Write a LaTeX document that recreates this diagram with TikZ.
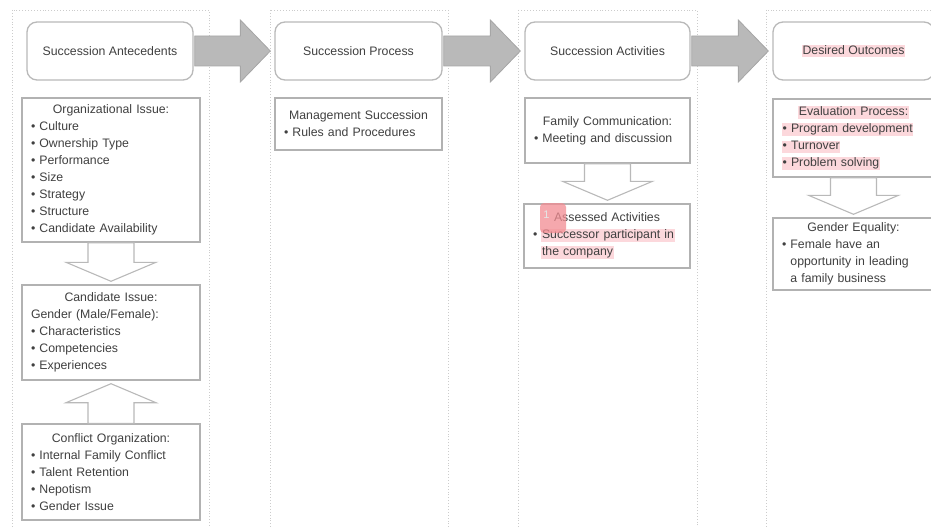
\documentclass[tikz,border=0pt]{standalone}
\usepackage{fontspec}
\setmainfont{Liberation Sans}
\usetikzlibrary{calc}
\definecolor{hlpink}{RGB}{252,216,220}
\definecolor{notepink}{RGB}{242,140,146}
\newcommand{\hlt}[1]{{\setlength{\fboxsep}{0.6pt}\colorbox{hlpink}{\vphantom{Ag}#1}}}
\newcommand{\ttl}[1]{{\noindent\makebox[\hsize]{#1}}}
\newcommand{\ind}{\phantom{•\ }}
% grey block arrow between two headers
\newcommand{\bigarrow}[2]{%
  \filldraw[bigarr] let \p1=(#1.east), \p2=(#2.west) in
    (\x1+1pt,\y1+15pt) -- (\x2-34pt,\y1+15pt) -- (\x2-34pt,\y1+31pt) -- (\x2-4pt,\y1)
    -- (\x2-34pt,\y1-31pt) -- (\x2-34pt,\y1-15pt) -- (\x1+1pt,\y1-15pt) -- cycle;}
% open arrow between two boxes of a column
\newcommand{\hollowarrow}[2]{%
  \filldraw[hollow] let \p1=(#1), \p3=($(#2)!22pt!(#1)$), \p4=($(#2)!3pt!(#1)$) in
    (\x1-23pt,\y1) -- (\x1-23pt,\y3) -- (\x1-45pt,\y3) -- (\x1,\y4)
    -- (\x1+45pt,\y3) -- (\x1+23pt,\y3) -- (\x1+23pt,\y1) -- cycle;}

\begin{document}
\begin{tikzpicture}[x=1pt,y=-1pt,
  font=\fontsize{12.3}{17}\selectfont, text=black!75,
  colbox/.style={draw=gray!40, dotted, line width=0.9pt},
  head/.style={draw=gray!55, line width=1.3pt, rounded corners=10pt, fill=white,
    minimum height=58pt, inner sep=0pt},
  item/.style={draw=gray!60, line width=1.4pt, fill=white, align=left,
    inner xsep=9pt, inner ysep=0pt},
  bigarr/.style={fill=gray!55, draw=gray!70, line width=0.8pt},
  hollow/.style={draw=gray!55, line width=1.1pt, fill=white}]
\useasboundingbox (0,0) rectangle (931,527);
\clip (0,0) rectangle (931,527);

% columns
\draw[colbox] (12,10) rectangle (209,545);
\draw[colbox] (270,10) rectangle (448,545);
\draw[colbox] (518,10) rectangle (697,545);
\draw[colbox] (766,10) rectangle (950,545);

% headers
\node[head, minimum width=166pt] (antec) at (110,51) {Succession Antecedents};
\node[head, minimum width=167pt] (process) at (358.5,51) {Succession Process};
\node[head, minimum width=165pt] (activ) at (607.5,51) {Succession Activities};
\node[head, minimum width=161pt] (outcome) at (853.5,51) {\hlt{Desired Outcomes}};

\bigarrow{antec}{process}
\bigarrow{process}{activ}
\bigarrow{activ}{outcome}

% column 1
\node[item, text width=160pt, minimum height=144pt] (orgissue) at (111,170) {%
  \ttl{Organizational Issue:}\\
  • Culture\\
  • Ownership Type\\
  • Performance\\
  • Size\\
  • Strategy\\
  • Structure\\
  • Candidate Availability};
\node[item, text width=160pt, minimum height=95pt] (candissue) at (111,332.5) {%
  \ttl{Candidate Issue:}\\
  Gender (Male/Female):\\
  • Characteristics\\
  • Competencies\\
  • Experiences};
\node[item, text width=160pt, minimum height=96pt] (conflict) at (111,472) {%
  \ttl{Conflict Organization:}\\
  • Internal Family Conflict\\
  • Talent Retention\\
  • Nepotism\\
  • Gender Issue};
\hollowarrow{orgissue.south}{candissue.north}
\hollowarrow{conflict.north}{candissue.south}

% column 2
\node[item, text width=149pt, minimum height=52pt] (mgmt) at (358.5,124) {%
  \ttl{Management Succession}\\
  • Rules and Procedures};

% column 3
\node[item, text width=147pt, minimum height=65pt] (familycom) at (607.5,130.5) {%
  \ttl{Family Communication:}\\
  • Meeting and discussion};
\node[item, text width=148pt, minimum height=64pt] (assessed) at (607,236) {%
  \ttl{Assessed Activities}\\
  • \hlt{Successor participant in}\\
  \ind\hlt{the company}};
\hollowarrow{familycom.south}{assessed.north}
\fill[notepink, opacity=0.75, rounded corners=4pt] (540,203) rectangle (566,233);
\node[text=white!80!gray, inner sep=0pt, font=\fontsize{11}{11}\selectfont] (note) at (546.5,215) {1};

% column 4
\node[item, text width=143pt, minimum height=78pt] (evalproc) at (853.5,138) {%
  \ttl{\hlt{Evaluation Process:}}\\
  \hlt{• Program development}\\
  \hlt{• Turnover}\\
  \hlt{• Problem solving}};
\node[item, text width=143pt, minimum height=72pt] (equality) at (853.5,254) {%
  \ttl{Gender Equality:}\\
  • Female have an\\
  \ind opportunity in leading\\
  \ind a family business};
\hollowarrow{evalproc.south}{equality.north}
\end{tikzpicture}
\end{document}
